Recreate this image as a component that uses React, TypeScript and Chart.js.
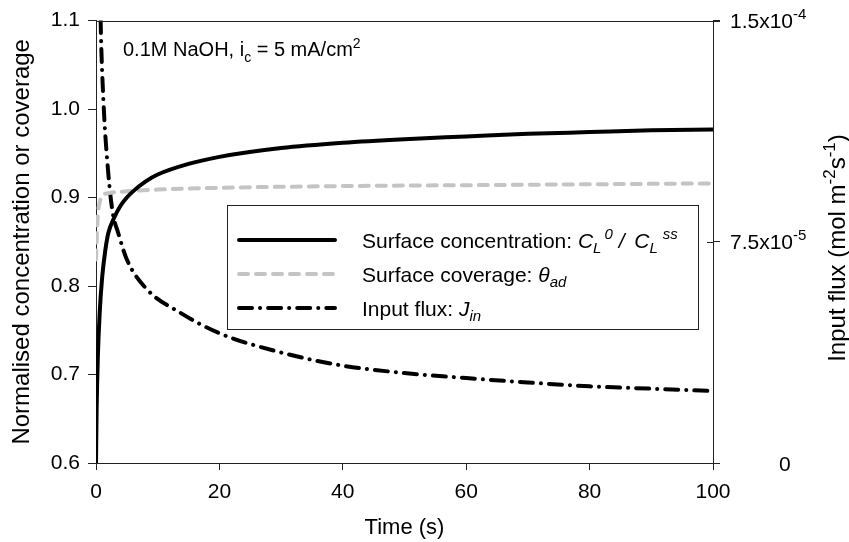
import React, { useEffect, useRef } from "react";
import { Chart, registerables } from "chart.js";

Chart.register(...registerables);

const FONT = "'Liberation Sans', Arial, sans-serif";

// Surface concentration C_L^0 / C_L^ss (left axis)
const concTime = [0, 0.1, 0.3, 0.6, 1, 1.5, 2, 3, 4, 5, 6, 8, 10, 15, 20, 30, 40, 50, 60, 70, 80, 90, 100];
const concValues = [0.6, 0.66, 0.72, 0.77, 0.81, 0.84, 0.86, 0.878, 0.891, 0.9, 0.907, 0.918, 0.926, 0.938, 0.946, 0.956, 0.962, 0.966, 0.969, 0.972, 0.974, 0.976, 0.977];

// Surface coverage theta_ad (left axis)
const covTime = [0, 0.1, 0.3, 0.6, 1, 2, 5, 10, 20, 40, 60, 80, 100];
const covValues = [0.83, 0.85, 0.88, 0.895, 0.902, 0.905, 0.907, 0.909, 0.911, 0.913, 0.914, 0.915, 0.916];

// Input flux J_in (right axis, mol m^-2 s^-1)
const fluxTime = [0.6, 0.75, 1.2, 2, 2.7, 3.6, 5, 8.2, 13.6, 20, 29, 40, 50, 60, 70, 80, 90, 100];
const fluxValues = [1.7e-4, 1.5e-4, 1.23e-4, 9.8e-5, 8.5e-5, 7.8e-5, 6.9e-5, 5.9e-5, 5.1e-5, 4.4e-5, 3.8e-5, 3.3e-5, 3.05e-5, 2.88e-5, 2.73e-5, 2.6e-5, 2.52e-5, 2.44e-5];

const xTicks = [0, 20, 40, 60, 80, 100];
const leftTicks = [0.6, 0.7, 0.8, 0.9, 1.0, 1.1];
const rightTicks = [0, 7.5e-5, 1.5e-4];
const rightTickLabels: [string, string][] = [["0", ""], ["7.5x10", "-5"], ["1.5x10", "-4"]];

const seriesLabels = ["Surface concentration", "Surface coverage", "Input flux"];

type Part = { t: string; s?: "sub" | "sup"; i?: boolean; dx?: number };

function setFont(ctx: CanvasRenderingContext2D, p: Part, size: number) {
  const fs = p.s ? Math.round(size * 0.7) : size;
  ctx.font = `${p.i ? "italic " : ""}${fs}px ${FONT}`;
}
function richWidth(ctx: CanvasRenderingContext2D, parts: Part[], size: number) {
  let w = 0;
  for (const p of parts) {
    setFont(ctx, p, size);
    w += (p.dx || 0) + ctx.measureText(p.t).width;
  }
  return w;
}
function drawRich(ctx: CanvasRenderingContext2D, parts: Part[], x: number, y: number, size: number) {
  let cx = x;
  ctx.textBaseline = "alphabetic";
  ctx.textAlign = "left";
  for (const p of parts) {
    setFont(ctx, p, size);
    cx += p.dx || 0;
    const dy = p.s === "sub" ? size * 0.28 : p.s === "sup" ? -size * 0.42 : 0;
    ctx.fillText(p.t, cx, y + dy);
    cx += ctx.measureText(p.t).width;
  }
  return cx - x;
}

const legendRows: Part[][] = [
  [
    { t: "Surface concentration: " },
    { t: "C", i: true },
    { t: "L", s: "sub", i: true },
    { t: "0", s: "sup", i: true, dx: 3 },
    { t: " / ", i: true },
    { t: "C", i: true, dx: 4 },
    { t: "L", s: "sub", i: true },
    { t: "ss", s: "sup", i: true, dx: 5 },
  ],
  [{ t: "Surface coverage: " }, { t: "\u03b8", i: true }, { t: "ad", s: "sub", i: true }],
  [{ t: "Input flux: " }, { t: "J", i: true }, { t: "in", s: "sub", i: true }],
];

const decorPlugin = {
  id: "decor",
  afterDraw(chart: any) {
    const ctx: CanvasRenderingContext2D = chart.ctx;
    const { left, right, top } = chart.chartArea;
    const y2 = chart.scales.y2;
    ctx.save();
    // top frame line
    ctx.strokeStyle = "#222";
    ctx.lineWidth = 1;
    ctx.setLineDash([]);
    ctx.beginPath();
    ctx.moveTo(left, Math.round(top) + 0.5);
    ctx.lineTo(right + 7, Math.round(top) + 0.5);
    ctx.stroke();
    // inner part of right ticks
    rightTicks.forEach((v) => {
      const py = Math.round(y2.getPixelForValue(v)) + 0.5;
      ctx.beginPath();
      ctx.moveTo(right - 6, py);
      ctx.lineTo(right, py);
      ctx.stroke();
    });
    // right tick labels
    ctx.fillStyle = "#000";
    rightTicks.forEach((v, i) => {
      const py = y2.getPixelForValue(v);
      const [main, sup] = rightTickLabels[i];
      const parts: Part[] = sup ? [{ t: main }, { t: sup, s: "sup" }] : [{ t: main }];
      const lx = sup ? right + 17 : right + 66;
      drawRich(ctx, parts, lx, py + 7.5, 21);
    });
    // right axis title
    const rt: Part[] = [{ t: "Input flux (mol m" }, { t: "-2", s: "sup" }, { t: "s" }, { t: "-1", s: "sup" }, { t: ")" }];
    const rw = richWidth(ctx, rt, 24);
    ctx.translate(845, 248);
    ctx.rotate(-Math.PI / 2);
    drawRich(ctx, rt, -rw / 2, 0, 24);
    ctx.setTransform(1, 0, 0, 1, 0, 0);
    // annotation
    drawRich(ctx, [{ t: "0.1M NaOH, i" }, { t: "c", s: "sub" }, { t: " = 5 mA/cm" }, { t: "2", s: "sup" }], 123, 56, 20);
    // legend box
    const bx = 227, by = 205, bw = 471, bh = 124;
    ctx.strokeStyle = "#222";
    ctx.lineWidth = 1;
    ctx.strokeRect(bx + 0.5, by + 0.5, bw, bh);
    const rowsY = [240, 274, 308];
    chart.data.datasets.forEach((ds: any, i: number) => {
      const ry = rowsY[i];
      ctx.save();
      ctx.strokeStyle = ds.borderColor;
      ctx.lineWidth = ds.borderWidth;
      ctx.lineCap = "round";
      ctx.setLineDash(ds.borderDash || []);
      ctx.beginPath();
      ctx.moveTo(239, ry);
      ctx.lineTo(335, ry);
      ctx.stroke();
      ctx.restore();
      ctx.fillStyle = "#000";
      drawRich(ctx, legendRows[i], 362, ry + 7.5, 21);
    });
    ctx.restore();
  },
};

export default function App() {
  const ref = useRef<HTMLCanvasElement>(null);
  useEffect(() => {
    const canvas = ref.current;
    if (!canvas) return;
    const tickFont = { family: FONT, size: 21 };
    const chart = new Chart(canvas, {
      type: "line",
      data: {
        datasets: [
          {
            label: seriesLabels[0],
            data: concTime.map((t, i) => ({ x: t, y: concValues[i] })),
            yAxisID: "y",
            borderColor: "#000",
            borderWidth: 4,
            pointRadius: 0,
            cubicInterpolationMode: "monotone",
            borderCapStyle: "round",
          },
          {
            label: seriesLabels[1],
            data: covTime.map((t, i) => ({ x: t, y: covValues[i] })),
            yAxisID: "y",
            borderColor: "#c4c4c4",
            borderWidth: 4,
            borderDash: [9, 8],
            pointRadius: 0,
            cubicInterpolationMode: "monotone",
            borderCapStyle: "round",
          },
          {
            label: seriesLabels[2],
            data: fluxTime.map((t, i) => ({ x: t, y: fluxValues[i] })),
            yAxisID: "y2",
            borderColor: "#000",
            borderWidth: 4,
            borderDash: [13, 8, 0.1, 8],
            pointRadius: 0,
            cubicInterpolationMode: "monotone",
            borderCapStyle: "round",
          },
        ],
      },
      options: {
        responsive: false,
        animation: false,
        events: [],
        layout: { padding: { top: 20, left: 0, right: 0, bottom: 0 } },
        plugins: { legend: { display: false }, tooltip: { enabled: false } },
        scales: {
          x: {
            type: "linear",
            min: 0,
            max: 100,
            afterBuildTicks: (s: any) => {
              s.ticks = xTicks.map((v) => ({ value: v }));
            },
            ticks: { font: tickFont, color: "#000", padding: 10, maxRotation: 0 },
            grid: { drawOnChartArea: false, tickLength: 7, color: "#222" },
            border: { color: "#222", width: 1 },
            title: { display: true, text: "Time (s)", font: { family: FONT, size: 22 }, color: "#000", padding: { top: 1, bottom: 1 } },
            afterFit: (s: any) => {
              s.height = 79;
            },
          },
          y: {
            position: "left",
            min: 0.6,
            max: 1.1,
            afterBuildTicks: (s: any) => {
              s.ticks = leftTicks.map((v) => ({ value: v }));
            },
            ticks: { font: tickFont, color: "#000", padding: 8, callback: (v: any) => Number(v).toFixed(1) },
            grid: { drawOnChartArea: false, tickLength: 8, color: "#222" },
            border: { color: "#222", width: 1 },
            title: { display: true, text: "Normalised concentration or coverage", font: { family: FONT, size: 24 }, color: "#000", padding: { top: 8, bottom: 8 } },
            afterFit: (s: any) => {
              s.width = 96;
            },
          },
          y2: {
            position: "right",
            min: 0,
            max: 1.5e-4,
            afterBuildTicks: (s: any) => {
              s.ticks = rightTicks.map((v) => ({ value: v }));
            },
            ticks: { callback: () => "" },
            grid: { drawOnChartArea: false, tickLength: 7, color: "#222" },
            border: { color: "#222", width: 1 },
            afterFit: (s: any) => {
              s.width = 136;
            },
          },
        },
      },
      plugins: [decorPlugin],
    } as any);
    return () => chart.destroy();
  }, []);
  return (
    <div style={{ position: "fixed", left: 0, top: 0, width: 849, height: 542, background: "#fff" }}>
      <canvas ref={ref} width={849} height={542} style={{ display: "block" }} />
    </div>
  );
}
